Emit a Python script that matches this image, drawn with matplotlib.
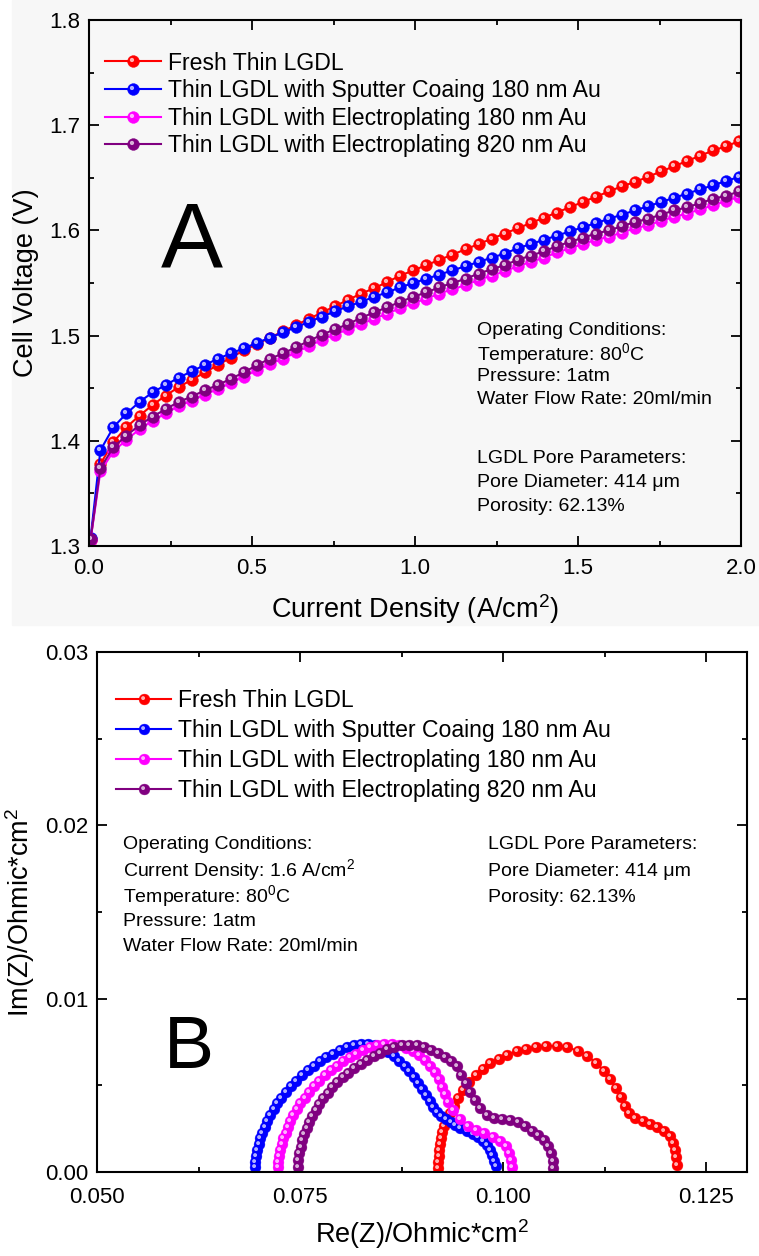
import numpy as np
import matplotlib
matplotlib.use('Agg')
import matplotlib.pyplot as plt
from matplotlib.markers import MarkerStyle
from matplotlib.transforms import Affine2D
from matplotlib.ticker import MultipleLocator, FormatStrFormatter
from matplotlib.patches import Rectangle

plt.rcParams['font.family'] = ['Liberation Sans', 'DejaVu Sans']
plt.rcParams['mathtext.fontset'] = 'custom'
plt.rcParams['mathtext.rm'] = 'Liberation Sans'
plt.rcParams['mathtext.it'] = 'Liberation Sans:italic'
plt.rcParams['mathtext.bf'] = 'Liberation Sans:bold'

labels = ['Fresh Thin LGDL',
          'Thin LGDL with Sputter Coaing 180 nm Au',
          'Thin LGDL with Electroplating 180 nm Au',
          'Thin LGDL with Electroplating 820 nm Au']
colors = ['#ff0000', '#0000ff', '#ff00ff', '#800080']

# --- polarization curves (panel A) ---
current = [0.005, 0.035, 0.075, 0.115, 0.155, 0.195, 0.235, 0.275, 0.315, 0.355,
           0.395, 0.435, 0.475, 0.515, 0.555, 0.595, 0.635, 0.675, 0.715, 0.755,
           0.795, 0.835, 0.875, 0.915, 0.955, 0.995, 1.035, 1.075, 1.115, 1.155,
           1.195, 1.235, 1.275, 1.315, 1.355, 1.395, 1.435, 1.475, 1.515, 1.555,
           1.595, 1.635, 1.675, 1.715, 1.755, 1.795, 1.835, 1.875, 1.915, 1.955,
           1.995]
v_fresh = [1.306, 1.378, 1.399, 1.413, 1.424, 1.434, 1.443, 1.451, 1.458, 1.465,
           1.472, 1.479, 1.486, 1.492, 1.498, 1.504, 1.510, 1.516, 1.522, 1.528,
           1.534, 1.540, 1.545, 1.551, 1.557, 1.562, 1.567, 1.572, 1.577, 1.582,
           1.587, 1.592, 1.597, 1.602, 1.607, 1.612, 1.617, 1.622, 1.627, 1.632,
           1.637, 1.642, 1.646, 1.651, 1.656, 1.661, 1.666, 1.671, 1.676, 1.680,
           1.685]
v_sputter = [1.308, 1.391, 1.413, 1.426, 1.437, 1.446, 1.453, 1.460, 1.466, 1.472,
             1.478, 1.483, 1.488, 1.493, 1.498, 1.503, 1.508, 1.513, 1.518, 1.523,
             1.528, 1.532, 1.537, 1.541, 1.546, 1.550, 1.554, 1.558, 1.562, 1.566,
             1.570, 1.574, 1.578, 1.583, 1.587, 1.591, 1.595, 1.599, 1.603, 1.607,
             1.611, 1.615, 1.619, 1.623, 1.627, 1.631, 1.635, 1.639, 1.643, 1.647,
             1.651]
v_ep180 = [1.306, 1.371, 1.390, 1.401, 1.411, 1.419, 1.426, 1.433, 1.438, 1.444,
           1.449, 1.455, 1.461, 1.467, 1.473, 1.478, 1.484, 1.490, 1.496, 1.501,
           1.506, 1.511, 1.516, 1.521, 1.526, 1.531, 1.535, 1.540, 1.544, 1.548,
           1.553, 1.557, 1.561, 1.566, 1.570, 1.574, 1.579, 1.583, 1.587, 1.591,
           1.594, 1.598, 1.602, 1.605, 1.609, 1.613, 1.616, 1.620, 1.624, 1.628,
           1.632]
v_ep820 = [1.307, 1.374, 1.394, 1.405, 1.415, 1.423, 1.430, 1.437, 1.442, 1.448,
           1.453, 1.459, 1.465, 1.472, 1.478, 1.483, 1.489, 1.495, 1.501, 1.506,
           1.511, 1.517, 1.522, 1.527, 1.532, 1.537, 1.541, 1.546, 1.550, 1.554,
           1.559, 1.563, 1.567, 1.572, 1.576, 1.580, 1.585, 1.589, 1.593, 1.597,
           1.600, 1.604, 1.608, 1.611, 1.615, 1.619, 1.622, 1.626, 1.630, 1.633,
           1.637]

# --- impedance spectra (panel B) ---
re_fresh = [0.09201, 0.09201, 0.09205, 0.09213, 0.09221, 0.09233, 0.09250, 0.09270,
            0.09303, 0.09344, 0.09393, 0.09447, 0.09508, 0.09578, 0.09660, 0.09746,
            0.09841, 0.09943, 0.10050, 0.10165, 0.10280, 0.10399, 0.10522, 0.10657,
            0.10788, 0.10915, 0.11034, 0.11141, 0.11236, 0.11318, 0.11387, 0.11445,
            0.11494, 0.11551, 0.11625, 0.11716, 0.11806, 0.11896, 0.11982, 0.12052,
            0.12093, 0.12113, 0.12126, 0.12138]
im_fresh = [0.00021, 0.00056, 0.00090, 0.00125, 0.00160, 0.00194, 0.00229, 0.00264,
            0.00300, 0.00339, 0.00381, 0.00425, 0.00473, 0.00517, 0.00560, 0.00596,
            0.00627, 0.00654, 0.00677, 0.00696, 0.00712, 0.00721, 0.00727, 0.00727,
            0.00719, 0.00700, 0.00669, 0.00631, 0.00585, 0.00535, 0.00483, 0.00431,
            0.00383, 0.00342, 0.00314, 0.00292, 0.00275, 0.00258, 0.00237, 0.00208,
            0.00169, 0.00127, 0.00085, 0.00042]

re_sputter = [0.06945, 0.06945, 0.06953, 0.06969, 0.06990, 0.07010, 0.07035, 0.07064,
              0.07096, 0.07133, 0.07174, 0.07219, 0.07269, 0.07326, 0.07388, 0.07449,
              0.07519, 0.07593, 0.07667, 0.07745, 0.07823, 0.07905, 0.07987, 0.08073,
              0.08159, 0.08249, 0.08340, 0.08426, 0.08508, 0.08586, 0.08655, 0.08721,
              0.08787, 0.08844, 0.08902, 0.08955, 0.09004, 0.09049, 0.09094, 0.09140,
              0.09185, 0.09238, 0.09295, 0.09353, 0.09410, 0.09470, 0.09549, 0.09623,
              0.09693, 0.09754, 0.09800, 0.09832, 0.09857, 0.09882, 0.09906]
im_sputter = [0.00027, 0.00060, 0.00092, 0.00127, 0.00162, 0.00194, 0.00227, 0.00262,
              0.00296, 0.00329, 0.00362, 0.00396, 0.00429, 0.00463, 0.00496, 0.00527,
              0.00558, 0.00587, 0.00614, 0.00639, 0.00662, 0.00683, 0.00702, 0.00719,
              0.00733, 0.00740, 0.00740, 0.00733, 0.00717, 0.00694, 0.00669, 0.00642,
              0.00612, 0.00581, 0.00548, 0.00515, 0.00481, 0.00446, 0.00412, 0.00377,
              0.00346, 0.00323, 0.00304, 0.00287, 0.00271, 0.00256, 0.00235, 0.00218,
              0.00200, 0.00181, 0.00156, 0.00127, 0.00096, 0.00065, 0.00035]

re_ep180 = [0.07230, 0.07230, 0.07238, 0.07254, 0.07275, 0.07295, 0.07320, 0.07349,
            0.07381, 0.07418, 0.07459, 0.07504, 0.07554, 0.07611, 0.07673, 0.07734,
            0.07804, 0.07878, 0.07952, 0.08030, 0.08108, 0.08190, 0.08272, 0.08358,
            0.08444, 0.08534, 0.08625, 0.08717, 0.08803, 0.08885, 0.08963, 0.09037,
            0.09103, 0.09160, 0.09209, 0.09250, 0.09287, 0.09324, 0.09385, 0.09467,
            0.09562, 0.09664, 0.09767, 0.09869, 0.09960, 0.10029, 0.10075, 0.10099,
            0.10111]
im_ep180 = [0.00027, 0.00060, 0.00092, 0.00127, 0.00162, 0.00194, 0.00227, 0.00262,
            0.00296, 0.00329, 0.00362, 0.00396, 0.00429, 0.00463, 0.00496, 0.00527,
            0.00558, 0.00587, 0.00614, 0.00639, 0.00662, 0.00683, 0.00702, 0.00719,
            0.00733, 0.00740, 0.00740, 0.00731, 0.00717, 0.00700, 0.00675, 0.00646,
            0.00614, 0.00577, 0.00537, 0.00492, 0.00448, 0.00406, 0.00358, 0.00304,
            0.00266, 0.00242, 0.00223, 0.00204, 0.00179, 0.00150, 0.00112, 0.00069,
            0.00027]

re_ep820 = [0.07478, 0.07478, 0.07490, 0.07507, 0.07527, 0.07552, 0.07581, 0.07613,
            0.07650, 0.07691, 0.07736, 0.07786, 0.07839, 0.07896, 0.07958, 0.08024,
            0.08093, 0.08167, 0.08245, 0.08323, 0.08405, 0.08487, 0.08573, 0.08660,
            0.08750, 0.08840, 0.08934, 0.09025, 0.09111, 0.09197, 0.09279, 0.09357,
            0.09427, 0.09484, 0.09537, 0.09590, 0.09648, 0.09718, 0.09796, 0.09886,
            0.09984, 0.10083, 0.10177, 0.10267, 0.10353, 0.10431, 0.10501, 0.10554,
            0.10591, 0.10608, 0.10616]
im_ep820 = [0.00031, 0.00069, 0.00108, 0.00146, 0.00185, 0.00219, 0.00256, 0.00290,
            0.00323, 0.00358, 0.00392, 0.00425, 0.00458, 0.00488, 0.00517, 0.00546,
            0.00573, 0.00598, 0.00623, 0.00646, 0.00669, 0.00689, 0.00708, 0.00721,
            0.00731, 0.00735, 0.00731, 0.00721, 0.00706, 0.00689, 0.00665, 0.00639,
            0.00612, 0.00560, 0.00512, 0.00463, 0.00415, 0.00367, 0.00329, 0.00310,
            0.00304, 0.00300, 0.00289, 0.00265, 0.00239, 0.00212, 0.00185, 0.00150,
            0.00108, 0.00063, 0.00021]

pol_data = [v_fresh, v_sputter, v_ep180, v_ep820]
eis_data = [(re_fresh, im_fresh), (re_sputter, im_sputter),
            (re_ep180, im_ep180), (re_ep820, im_ep820)]

# small white spot on each marker to mimic the shaded "ball" symbol
shine = MarkerStyle('o', transform=Affine2D().scale(0.36).translate(-0.13, 0.13))


def balls(ax, x, y, c, ms=8.5):
    ln, = ax.plot(x, y, '-o', color=c, lw=1.5, ms=ms, mec=c, mew=0.3)
    hl, = ax.plot(x, y, ls='none', marker=shine, ms=ms, mfc='white', mec='none', alpha=0.7)
    return (ln, hl)


def style_axes(ax, xpad):
    ax.tick_params(which='both', direction='in', top=True, right=True, width=1.3, labelsize=16)
    ax.tick_params(which='major', length=7)
    ax.tick_params(which='minor', length=3.5)
    ax.tick_params(axis='y', which='major', pad=6)
    ax.tick_params(axis='x', which='major', pad=xpad)
    for s in ax.spines.values():
        s.set_linewidth(1.5)


fig = plt.figure(figsize=(7.59, 12.56), dpi=100)
fig.patches.append(Rectangle((12 / 759, 1 - 625 / 1256), 1, 625 / 1256, transform=fig.transFigure,
                             color='#f7f7f7', zorder=-10))

# Panel A
ax1 = fig.add_axes([89 / 759, 1 - 546 / 1256, 652 / 759, 526 / 1256])
ax1.set_facecolor('none')
handles = []
for v, c in zip(pol_data, colors):
    handles.append(balls(ax1, current, v, c))
ax1.set_xlim(0, 2.0)
ax1.set_ylim(1.3, 1.8)
ax1.xaxis.set_major_locator(MultipleLocator(0.5))
ax1.xaxis.set_minor_locator(MultipleLocator(0.25))
ax1.yaxis.set_major_locator(MultipleLocator(0.1))
ax1.yaxis.set_minor_locator(MultipleLocator(0.05))
ax1.xaxis.set_major_formatter(FormatStrFormatter('%.1f'))
ax1.yaxis.set_major_formatter(FormatStrFormatter('%.1f'))
style_axes(ax1, 8.5)
ax1.set_xlabel(r'Current Density (A/cm$^\mathregular{2}$)', fontsize=19.5)
ax1.set_ylabel('Cell Voltage (V)', fontsize=19.5)
ax1.xaxis.set_label_coords(0.5, -0.088)
ax1.yaxis.set_label_coords(-0.077, 0.5)
ax1.legend(handles, labels, loc='upper left', bbox_to_anchor=(0.025, 0.94), frameon=False,
           fontsize=16.6, handlelength=2.4, handletextpad=0.3, labelspacing=0.2,
           borderpad=0, borderaxespad=0, numpoints=1)
ax1.text(0.158, 0.530, 'A', fontsize=67, ha='center', va='baseline', transform=ax1.transAxes)
notes_a = ['Operating Conditions:', r'Temperature: 80$^\mathregular{0}$C', 'Pressure: 1atm',
           'Water Flow Rate: 20ml/min']
for i, t in enumerate(notes_a):
    ax1.text(0.595, 0.409 - i * 0.0437, t, fontsize=14, va='center', transform=ax1.transAxes)
notes_a2 = ['LGDL Pore Parameters:', 'Pore Diameter: 414 \u03bcm', 'Porosity: 62.13%']
for i, t in enumerate(notes_a2):
    ax1.text(0.595, 0.167 - i * 0.0455, t, fontsize=14, va='center', transform=ax1.transAxes)

# Panel B
ax2 = fig.add_axes([97 / 759, 1 - 1172 / 1256, 650 / 759, 520 / 1256])
handles = []
for (re_z, im_z), c in zip(eis_data, colors):
    handles.append(balls(ax2, re_z, im_z, c, ms=7.8))
ax2.set_xlim(0.05, 0.13)
ax2.set_ylim(0.0, 0.03)
ax2.xaxis.set_major_locator(MultipleLocator(0.025))
ax2.xaxis.set_minor_locator(MultipleLocator(0.0125))
ax2.yaxis.set_major_locator(MultipleLocator(0.01))
ax2.yaxis.set_minor_locator(MultipleLocator(0.005))
ax2.xaxis.set_major_formatter(FormatStrFormatter('%.3f'))
ax2.yaxis.set_major_formatter(FormatStrFormatter('%.2f'))
style_axes(ax2, 11)
ax2.set_xlabel(r'Re(Z)/Ohmic*cm$^\mathregular{2}$', fontsize=19.5)
ax2.set_ylabel(r'Im(Z)/Ohmic*cm$^\mathregular{2}$', fontsize=19.5)
ax2.xaxis.set_label_coords(0.5, -0.086)
ax2.yaxis.set_label_coords(-0.092, 0.5)
ax2.legend(handles, labels, loc='upper left', bbox_to_anchor=(0.029, 0.928), frameon=False,
           fontsize=16.6, handlelength=2.4, handletextpad=0.3, labelspacing=0.3,
           borderpad=0, borderaxespad=0, numpoints=1)
ax2.text(0.1415, 0.2, 'B', fontsize=54, ha='center', va='baseline', transform=ax2.transAxes)
notes_b = ['Operating Conditions:', r'Current Density: 1.6 A/cm$^\mathregular{2}$',
           r'Temperature: 80$^\mathregular{0}$C', 'Pressure: 1atm', 'Water Flow Rate: 20ml/min']
for i, t in enumerate(notes_b):
    ax2.text(0.04, 0.629 - i * 0.049, t, fontsize=14, va='center', transform=ax2.transAxes)
notes_b2 = ['LGDL Pore Parameters:', 'Pore Diameter: 414 \u03bcm', 'Porosity: 62.13%']
for i, t in enumerate(notes_b2):
    ax2.text(0.602, 0.629 - i * 0.051, t, fontsize=14, va='center', transform=ax2.transAxes)

fig.savefig('out.png', dpi=100)
